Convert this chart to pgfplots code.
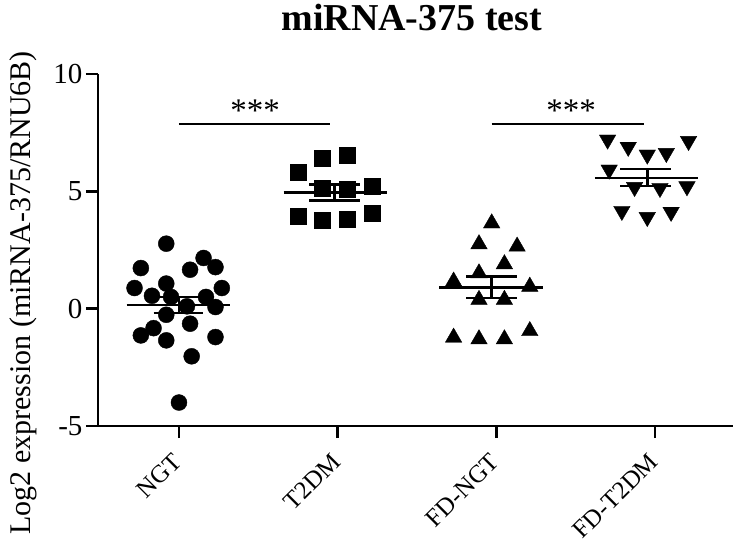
\documentclass[border=0pt]{standalone}
\usepackage{fontspec}
\setmainfont{Liberation Serif}
\usepackage{pgfplots}
\pgfplotsset{compat=1.18}
\begin{document}
\begin{tikzpicture}
\path[use as bounding box] (-98pt,-118pt) rectangle (637pt,426pt);
\begin{axis}[
  at={(0pt,0pt)}, anchor=south west,
  scale only axis, width=635pt, height=352pt,
  xmin=-0.51, xmax=3.49, ymin=-5, ymax=10,
  axis x line*=bottom, axis y line*=left,
  axis line style={line width=2.5pt, black},
  tick align=outside, major tick length=12pt,
  tick style={line width=2.5pt, black},
  xtick={0,1,2,3}, xticklabels={NGT,T2DM,FD-NGT,FD-T2DM},
  ytick={-5,0,5,10}, yticklabels={-5,0,5,10},
  xticklabel style={yshift=-17pt, xshift=1pt, rotate=45, anchor=east, font=\fontsize{25}{27}\selectfont},
  yticklabel style={font=\fontsize{29}{31}\selectfont},
  clip=false,
  unbounded coords=jump,
]
% NGT
\addplot[only marks, mark=*, mark size=8pt, black] coordinates {
(-0.08,2.77) (0.155,2.16) (-0.24,1.73) (0.07,1.66) (0.23,1.77) (-0.28,0.88) (-0.08,1.07)
(0.27,0.88) (-0.17,0.55) (-0.05,0.50) (0.17,0.50) (0.05,0.10) (0.23,0.07) (-0.08,-0.26)
(0.07,-0.64) (-0.16,-0.83) (-0.24,-1.14) (-0.08,-1.35) (0.23,-1.21) (0.08,-2.03) (0.0,-4.0)
};
% T2DM
\addplot[only marks, mark=square*, mark size=8pt, black] coordinates {
(0.90,6.42) (1.06,6.54) (0.75,5.83) (1.22,5.24) (0.90,5.12) (1.06,5.08)
(0.75,3.94) (0.90,3.77) (1.06,3.82) (1.22,4.05)
};
% FD-NGT
\addplot[only marks, mark=triangle*, mark size=9.5pt, black] coordinates {
(1.97,3.64) (1.89,2.75) (2.13,2.65) (2.05,1.90) (1.89,1.51) (1.73,1.16) (2.21,0.94)
(1.89,0.38) (2.05,0.38) (1.73,-1.23) (1.89,-1.30) (2.05,-1.30) (2.21,-0.95)
};
% FD-T2DM
\addplot[only marks, mark=triangle*, mark size=9.5pt, mark options={rotate=180}, black] coordinates {
(2.70,7.20) (2.83,6.89) (2.95,6.56) (3.07,6.63) (3.21,7.14) (2.71,5.92) (2.87,5.18)
(3.03,5.14) (3.20,5.21) (2.79,4.16) (2.95,3.90) (3.10,4.12)
};
% mean +/- SEM
\addplot[black, line width=2.5pt] coordinates {
(-0.33,0.15) (0.32,0.15) (0,nan)
(0,-0.19) (0,0.50) (0,nan)
(-0.16,0.50) (0.15,0.50) (0,nan)
(-0.16,-0.19) (0.15,-0.19)
};
\addplot[black, line width=2.5pt] coordinates {
(0.66,4.95) (1.31,4.95) (1,nan)
(0.98,4.62) (0.98,5.29) (1,nan)
(0.82,5.29) (1.14,5.29) (1,nan)
(0.82,4.62) (1.14,4.62)
};
\addplot[black, line width=2.5pt] coordinates {
(1.64,0.91) (2.29,0.91) (2,nan)
(1.97,0.45) (1.97,1.38) (2,nan)
(1.81,1.38) (2.13,1.38) (2,nan)
(1.81,0.45) (2.13,0.45)
};
\addplot[black, line width=2.5pt] coordinates {
(2.62,5.57) (3.27,5.57) (3,nan)
(2.95,5.22) (2.95,5.95) (3,nan)
(2.78,5.95) (3.10,5.95) (3,nan)
(2.78,5.22) (3.10,5.22)
};
% significance
\addplot[black, line width=2.5pt] coordinates {(0.0,7.86) (0.95,7.86)};
\addplot[black, line width=2.5pt] coordinates {(1.97,7.86) (2.93,7.86)};
\node[anchor=base, font=\fontsize{33}{35}\selectfont, inner sep=0pt] at (axis cs:0.48,7.97) {***};
\node[anchor=base, font=\fontsize{33}{35}\selectfont, inner sep=0pt] at (axis cs:2.47,7.97) {***};
% title and y label
\node[anchor=base, font=\fontsize{38}{40}\selectfont\bfseries, inner sep=0pt, yshift=43pt] at (rel axis cs:0.494,1) {miRNA-375 test};
\node[rotate=90, anchor=base, font=\fontsize{30}{32}\selectfont, inner sep=0pt] at (rel axis cs:-0.107,0.378) {Log2 expression (miRNA-375/RNU6B)};
\end{axis}
\end{tikzpicture}
\end{document}
